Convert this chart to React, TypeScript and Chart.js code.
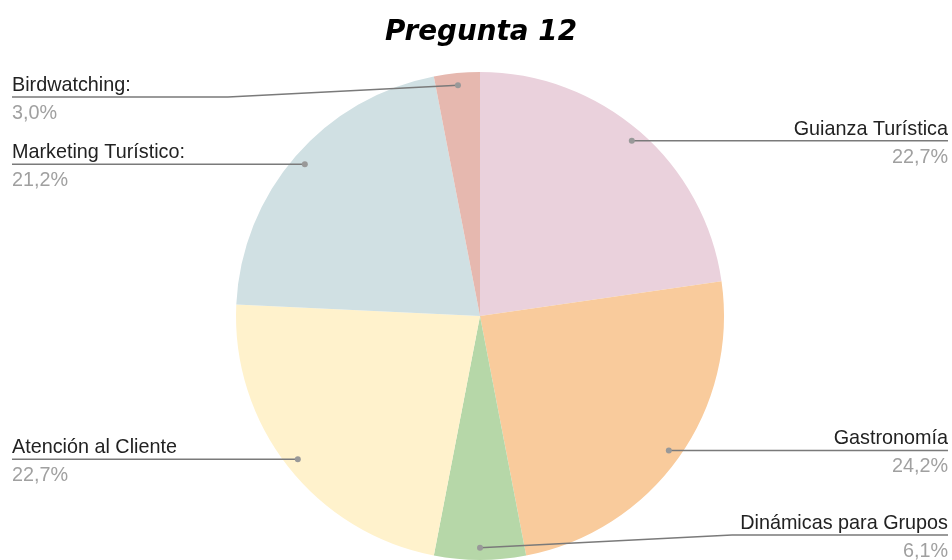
import { useEffect, useRef } from "react";
import { Chart, registerables } from "chart.js";

Chart.register(...registerables);

const title = "Pregunta 12";
const categories = [
  "Guianza Turística",
  "Gastronomía",
  "Dinámicas para Grupos",
  "Atención al Cliente",
  "Marketing Turístico:",
  "Birdwatching:",
];
const values = [15, 16, 4, 15, 14, 2];
const colors = ["#ead1dc", "#f9cb9c", "#b6d7a8", "#fff2cc", "#d0e0e3", "#e6b8af"];

const W = 952;
const H = 560;

const labelPlugin = {
  id: "leaderLabels",
  afterDraw(chart: any) {
    const ctx: CanvasRenderingContext2D = chart.ctx;
    const total = values.reduce((a, b) => a + b, 0);
    const meta = chart.getDatasetMeta(0);

    // Title
    ctx.save();
    let size = 28;
    ctx.font = `italic bold ${size}px "Comic Sans MS", "DejaVu Sans", sans-serif`;
    const mw = ctx.measureText(title).width;
    size = Math.min(30, (size * 192) / mw);
    ctx.font = `italic bold ${size}px "Comic Sans MS", "DejaVu Sans", sans-serif`;
    ctx.fillStyle = "#000";
    ctx.textAlign = "center";
    ctx.textBaseline = "alphabetic";
    ctx.fillText(title, 481, 40);
    ctx.restore();

    meta.data.forEach((arc: any, i: number) => {
      const p = arc.getProps(["x", "y", "startAngle", "endAngle", "outerRadius"], true);
      const mid = (p.startAngle + p.endAngle) / 2;
      const r = p.outerRadius * 0.95;
      const dx = p.x + Math.cos(mid) * r;
      const dy = p.y + Math.sin(mid) * r;
      const right = Math.cos(mid) > 0;
      const ly = Math.min(Math.max(dy, 97), 535);
      const edgeX = right ? W - 4 : 12;
      const elbowX = right ? edgeX - 216 : edgeX + 216;

      ctx.save();
      ctx.strokeStyle = "#7a7a7a";
      ctx.lineWidth = 1.5;
      ctx.beginPath();
      ctx.moveTo(edgeX, ly);
      if (Math.abs(ly - dy) > 0.5) {
        ctx.lineTo(elbowX, ly);
      }
      ctx.lineTo(dx, dy);
      ctx.stroke();

      ctx.fillStyle = "#999";
      ctx.beginPath();
      ctx.arc(dx, dy, 3, 0, Math.PI * 2);
      ctx.fill();

      ctx.font = `19.8px "Liberation Sans", Arial, sans-serif`;
      ctx.textAlign = right ? "right" : "left";
      ctx.textBaseline = "alphabetic";
      ctx.fillStyle = "#222";
      ctx.fillText(categories[i], edgeX, ly - 6);
      const pct = ((values[i] / total) * 100).toFixed(1).replace(".", ",") + "%";
      ctx.fillStyle = "#a0a0a0";
      ctx.fillText(pct, edgeX, ly + 22);
      ctx.restore();
    });
  },
};

export default function App() {
  const ref = useRef<HTMLCanvasElement | null>(null);
  useEffect(() => {
    document.body.style.margin = "0";
    if (!ref.current) return;
    const chart = new Chart(ref.current, {
      type: "pie",
      data: {
        labels: categories,
        datasets: [
          {
            data: values,
            backgroundColor: colors,
            borderWidth: 0,
          },
        ],
      },
      options: {
        responsive: false,
        animation: false,
        devicePixelRatio: 1,
        layout: { padding: { top: 72, left: 236, right: 228, bottom: 0 } },
        plugins: {
          legend: { display: false },
          tooltip: { enabled: false },
          title: { display: false },
        },
      },
      plugins: [labelPlugin],
    });
    return () => chart.destroy();
  }, []);
  return (
    <div style={{ width: W, height: H, background: "#fff" }}>
      <canvas ref={ref} width={W} height={H} style={{ display: "block" }} />
    </div>
  );
}
